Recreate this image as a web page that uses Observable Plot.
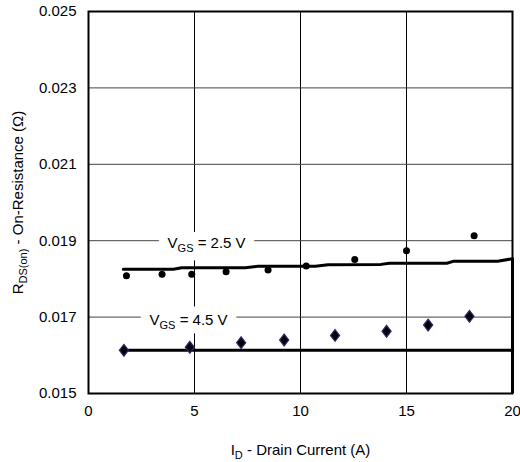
<!DOCTYPE html>
<html><head><meta charset="utf-8">
<script src="https://cdn.jsdelivr.net/npm/d3@7"></script>
<script src="https://cdn.jsdelivr.net/npm/@observablehq/plot@0.6"></script>
<style>
body{margin:0;background:#fff}
#chart svg{font-family:"Liberation Sans",Arial,Helvetica,sans-serif;}
</style>
</head><body><div id="chart"></div>
<script>
// ---- data ----
const xTicks = [0, 5, 10, 15, 20];
const yTicks = [0.015, 0.017, 0.019, 0.021, 0.023, 0.025];
const xGrid = [5, 10, 15];
const yGrid = [0.017, 0.019, 0.021, 0.023];

// VGS = 2.5 V measured points (dots)
const dots25X = [1.79, 3.47, 4.87, 6.49, 8.47, 10.27, 12.56, 15.0, 18.19];
const dots25Y = [0.01808, 0.01812, 0.01812, 0.01819, 0.01823, 0.01834, 0.01851, 0.01874, 0.01913];
// VGS = 4.5 V measured points (diamonds)
const dots45X = [1.67, 4.78, 7.2, 9.23, 11.63, 14.06, 16.02, 17.97];
const dots45Y = [0.01613, 0.01621, 0.01633, 0.0164, 0.01652, 0.01663, 0.01679, 0.01702];
// VGS = 2.5 V curve
const line25X = [1.64, 4.0, 4.4, 7.4, 8.0, 10.7, 11.3, 13.8, 14.2, 16.9, 17.2, 19.3, 20];
const line25Y = [0.01825, 0.01825, 0.01829, 0.01829, 0.01833, 0.01833, 0.01837, 0.01838, 0.01841, 0.01841, 0.01846, 0.01846, 0.01853];
// VGS = 4.5 V curve
const line45X = [1.67, 20];
const line45Y = [0.01613, 0.01613];
// curve end drop at right edge
const edgeX = [20];
const edgeY = [0.015, 0.01853];

// annotations
const labelText = ["VGS = 2.5 V", "VGS = 4.5 V"];
const labelX = [5.57, 4.72];
const labelY = [0.01894, 0.01692];

const xLabel = "ID - Drain Current (A)";
const yLabel = "RDS(on) - On-Resistance (Ω)";

// ---- tables ----
const zip = (xs, ys) => xs.map((x, i) => ({x, y: ys[i]}));
const pts25 = zip(dots25X, dots25Y);
const pts45 = zip(dots45X, dots45Y);
const crv25 = zip(line25X, line25Y);
const crv45 = zip(line45X, line45Y);
const labels = labelText.map((t, i) => ({t, x: labelX[i], y: labelY[i]}));

const diamond = {
  draw(ctx, size) {
    const k = Math.sqrt(size / 65);
    const w = 5 * k, h = 6.5 * k;
    ctx.moveTo(0, -h); ctx.lineTo(w, 0); ctx.lineTo(0, h); ctx.lineTo(-w, 0); ctx.closePath();
  }
};

const chart = Plot.plot({
  width: 520, height: 462,
  marginLeft: 88, marginRight: 8, marginTop: 11, marginBottom: 69,
  style: {fontSize: "15px", fontFamily: "'Liberation Sans', Arial, sans-serif", background: "white", color: "black", overflow: "visible"},
  x: {domain: [0, 20]},
  y: {domain: [0.015, 0.025]},
  marks: [
    Plot.gridX(xGrid, {stroke: "black", strokeOpacity: 1, strokeWidth: 1}),
    Plot.gridY(yGrid, {stroke: "#444", strokeOpacity: 1, strokeWidth: 1}),
    Plot.axisX(xTicks, {tickSize: 0, tickPadding: 12, label: xLabel, labelAnchor: "center", labelOffset: 61, labelArrow: "none"}),
    Plot.axisY(yTicks, {tickSize: 0, tickPadding: 12, tickFormat: d3.format(".3f"), label: yLabel, labelAnchor: "center", labelOffset: 76, labelArrow: "none"}),
    // white backing behind the annotations
    Plot.text(labels, {x: "x", y: "y", text: "t", fill: "white", stroke: "white", strokeWidth: 18, textAnchor: "middle", lineAnchor: "middle", fontSize: 15}),
    Plot.text(labels, {x: "x", y: "y", text: "t", fill: "black", textAnchor: "middle", lineAnchor: "middle", fontSize: 15}),
    Plot.line(crv25, {x: "x", y: "y", stroke: "black", strokeWidth: 3, curve: "linear"}),
    Plot.line(crv45, {x: "x", y: "y", stroke: "black", strokeWidth: 3}),
    Plot.ruleX(edgeX, {y1: edgeY[0], y2: edgeY[1], stroke: "black", strokeWidth: 3}),
    Plot.dot(pts25, {x: "x", y: "y", r: 3.5, fill: "black", stroke: "none"}),
    Plot.dot(pts45, {x: "x", y: "y", r: 4.15, symbol: diamond, fill: "black", stroke: "#2e2a78", strokeWidth: 1.2}),
    Plot.frame({stroke: "black", strokeWidth: 2})
  ]
});
document.getElementById("chart").appendChild(chart);

// ---- subscripts ----
function subify(el, parts) {
  while (el.firstChild) el.removeChild(el.firstChild);
  const ns = "http://www.w3.org/2000/svg";
  let shifted = false;
  for (const [txt, sub] of parts) {
    const ts = document.createElementNS(ns, "tspan");
    ts.textContent = txt;
    if (sub) { ts.setAttribute("dy", "4"); ts.setAttribute("font-size", "11"); shifted = true; }
    else if (shifted) { ts.setAttribute("dy", "-4"); shifted = false; }
    el.appendChild(ts);
  }
}
const svg = d3.select(chart.tagName.toLowerCase() === "svg" ? chart : chart.querySelector("svg"));
svg.selectAll("text").each(function () {
  const c = this.textContent;
  if (c.includes("Drain Current")) subify(this, [["I"], ["D", true], [" - Drain Current (A)"]]);
  else if (c.includes("On-Resistance")) subify(this, [["R"], ["DS(on)", true], [" - On-Resistance (Ω)"]]);
  else if (c.startsWith("VGS = 2.5")) subify(this, [["V"], ["GS", true], [" = 2.5 V"]]);
  else if (c.startsWith("VGS = 4.5")) subify(this, [["V"], ["GS", true], [" = 4.5 V"]]);
});
</script>
</body></html>
